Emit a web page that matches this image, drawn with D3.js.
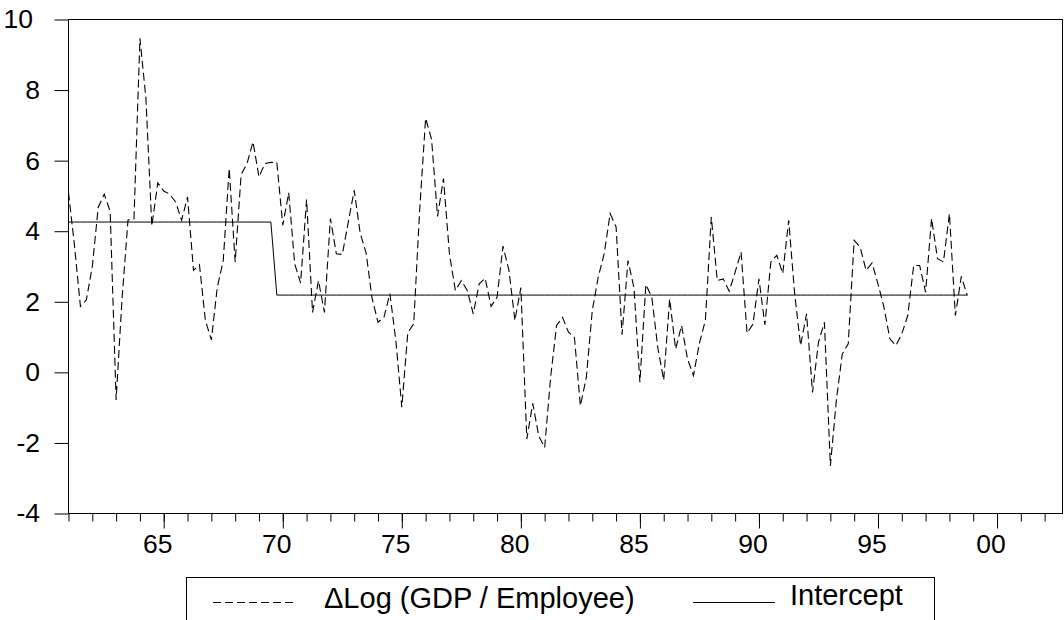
<html>
<script src="https://d3js.org/d3.v7.min.js"></script>
<style>
    body { margin: 0; background: white; }
    text { font-family: "Liberation Sans", Arial, sans-serif; fill: black; }
</style>
<body>
<svg width="1064" height="620"></svg>
<script>
    // quarterly growth of log GDP per employee, 1961Q1 .. 1998Q4
    var startYear = 1961;
    var growth = [
        5.10, 3.60, 1.87, 2.05,     // 1961
        3.00, 4.68, 5.05, 4.56,     // 1962
        -0.78, 2.10, 4.32, 4.35,    // 1963
        9.47, 7.78, 4.15, 5.37,     // 1964
        5.14, 5.05, 4.83, 4.31,     // 1965
        4.97, 2.89, 3.05, 1.47,     // 1966
        0.92, 2.41, 3.17, 5.78,     // 1967
        3.13, 5.60, 5.92, 6.53,     // 1968
        5.54, 5.92, 5.95, 5.95,     // 1969
        4.17, 5.09, 3.08, 2.53,     // 1970
        4.90, 1.70, 2.60, 1.70,     // 1971
        4.36, 3.36, 3.34, 4.25,     // 1972
        5.16, 3.95, 3.38, 2.10,     // 1973
        1.42, 1.56, 2.23, 0.90,     // 1974
        -0.99, 1.12, 1.38, 4.60,    // 1975
        7.20, 6.60, 4.42, 5.49,     // 1976
        3.36, 2.32, 2.60, 2.32,     // 1977
        1.66, 2.51, 2.67, 1.87,     // 1978
        2.13, 3.58, 2.89, 1.47,     // 1979
        2.40, -1.89, -0.88, -1.80,  // 1980
        -2.13, -0.14, 1.33, 1.56,   // 1981
        1.14, 0.99, -0.95, -0.14,   // 1982
        1.75, 2.70, 3.36, 4.50,     // 1983
        4.12, 1.07, 3.17, 2.40,     // 1984
        -0.28, 2.49, 2.13, 0.71,    // 1985
        -0.22, 2.08, 0.66, 1.33,    // 1986
        0.38, -0.09, 0.83, 1.47,    // 1987
        4.40, 2.60, 2.65, 2.30,     // 1988
        2.84, 3.41, 1.11, 1.37,     // 1989
        2.65, 1.35, 3.13, 3.32,     // 1990
        2.80, 4.31, 2.23, 0.76,     // 1991
        1.66, -0.57, 0.85, 1.42,    // 1992
        -2.65, -0.80, 0.52, 0.81,   // 1993
        3.74, 3.55, 2.89, 3.10,     // 1994
        2.51, 1.85, 0.95, 0.76,     // 1995
        1.09, 1.61, 3.03, 3.03,     // 1996
        2.27, 4.36, 3.22, 3.13,     // 1997
        4.50, 1.61, 2.72, 2.18      // 1998
    ];

    // intercept: one level before the break (1969Q4), one after
    var interceptLevels = [4.26, 2.19];
    var interceptBreak = 35;

    var xDomain = [1961, 2002.75];
    var yDomain = [-4, 10];
    var yTicks = [-4, -2, 0, 2, 4, 6, 8, 10];
    var minorYears = d3.range(1961, 2003);
    var majorYears = [1965, 1970, 1975, 1980, 1985, 1990, 1995, 2000];
    var majorLabels = ["65", "70", "75", "80", "85", "90", "95", "00"];
    var legendLabels = ["\u0394Log (GDP / Employee)", "Intercept"];

    var svg = d3.select("svg");
    var xs = d3.scaleLinear().domain(xDomain).range([68.5, 1062.5]);
    var ys = d3.scaleLinear().domain(yDomain).range([513.5, 19.5]);

    var rows = growth.map(function (v, i) {
        return {
            t: startYear + i / 4,
            g: v,
            c: i < interceptBreak ? interceptLevels[0] : interceptLevels[1]
        };
    });

    // frame
    svg.append("rect")
        .attr("x", xs(xDomain[0])).attr("y", ys(yDomain[1]))
        .attr("width", xs(xDomain[1]) - xs(xDomain[0]))
        .attr("height", ys(yDomain[0]) - ys(yDomain[1]))
        .attr("fill", "none").attr("stroke", "black").attr("stroke-width", 1);

    // y axis
    var yAxis = svg.append("g")
        .attr("transform", "translate(" + xs(xDomain[0]) + ",0)")
        .call(d3.axisLeft(ys).tickValues(yTicks).tickSize(14).tickSizeOuter(0)
            .tickFormat(function (d) { return String(d); }));
    yAxis.select(".domain").remove();
    yAxis.selectAll("line").attr("stroke", "black");
    yAxis.selectAll("text")
        .attr("font-family", "Liberation Sans, Arial, sans-serif")
        .attr("font-size", 26.5)
        .attr("x", function (d) { return d === 10 ? -35.5 : -28.5; });

    // x axis, minor ticks every year
    var xMinor = svg.append("g")
        .attr("transform", "translate(0," + ys(yDomain[0]) + ")")
        .call(d3.axisBottom(xs).tickValues(minorYears).tickSize(8).tickSizeOuter(0)
            .tickFormat(""));
    xMinor.select(".domain").remove();
    xMinor.selectAll("line").attr("stroke", "black");

    // x axis, major ticks with labels
    var xMajor = svg.append("g")
        .attr("transform", "translate(0," + ys(yDomain[0]) + ")")
        .call(d3.axisBottom(xs).tickValues(majorYears).tickSize(15).tickSizeOuter(0)
            .tickFormat(function (d, i) { return majorLabels[i]; }));
    xMajor.select(".domain").remove();
    xMajor.selectAll("line").attr("stroke", "black");
    xMajor.selectAll("text")
        .attr("font-family", "Liberation Sans, Arial, sans-serif")
        .attr("font-size", 26.5)
        .attr("dy", 0)
        .attr("y", 39.5)
        .attr("x", -6.5);

    // series
    var gLine = d3.line().x(function (d) { return xs(d.t); }).y(function (d) { return ys(d.g); });
    var cLine = d3.line().x(function (d) { return xs(d.t); }).y(function (d) { return ys(d.c); });

    svg.append("path").datum(rows)
        .attr("d", cLine)
        .attr("fill", "none").attr("stroke", "black").attr("stroke-width", 1);

    svg.append("path").datum(rows)
        .attr("d", gLine)
        .attr("fill", "none").attr("stroke", "black").attr("stroke-width", 1.1)
        .attr("stroke-dasharray", "8,4");

    // legend
    var lg = svg.append("g");
    lg.append("rect")
        .attr("x", 186.5).attr("y", 577.5).attr("width", 748).attr("height", 70)
        .attr("fill", "white").attr("stroke", "black").attr("stroke-width", 1);
    lg.append("line")
        .attr("x1", 213).attr("x2", 295).attr("y1", 602.5).attr("y2", 602.5)
        .attr("stroke", "black").attr("stroke-dasharray", "8,4");
    lg.append("text")
        .attr("x", 324).attr("y", 607.5)
        .attr("font-size", 29)
        .text(legendLabels[0]);
    lg.append("line")
        .attr("x1", 693).attr("x2", 775).attr("y1", 602.5).attr("y2", 602.5)
        .attr("stroke", "black");
    lg.append("text")
        .attr("x", 790).attr("y", 604.5)
        .attr("font-size", 29)
        .text(legendLabels[1]);
</script>
</body>
</html>
